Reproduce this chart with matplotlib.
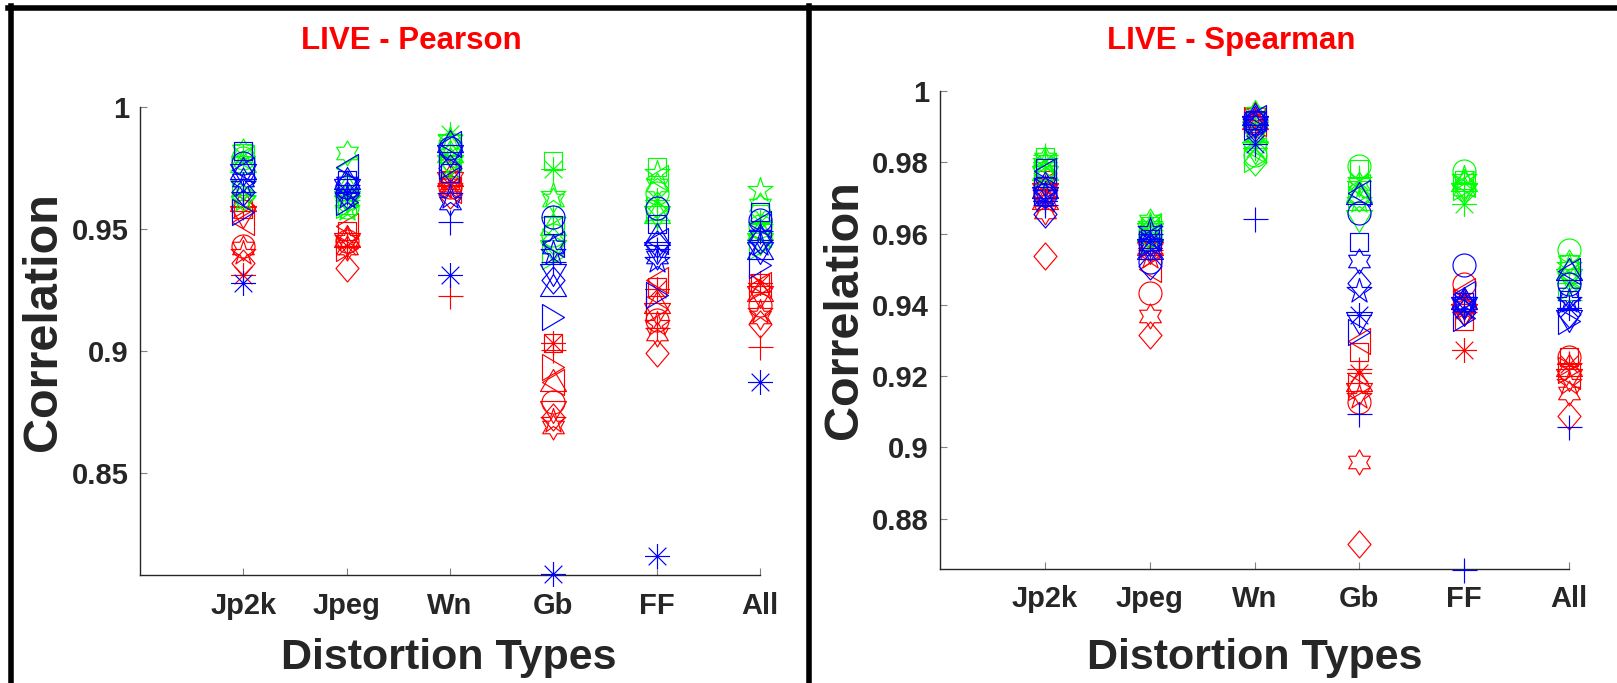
import numpy as np
import matplotlib
matplotlib.use("Agg")
import matplotlib.pyplot as plt
from matplotlib.path import Path
from matplotlib.lines import Line2D

plt.rcParams['font.family'] = ['Liberation Sans', 'DejaVu Sans']

categories = ["Jp2k", "Jpeg", "Wn", "Gb", "FF", "All"]
marker_names = ["+", "o", "*", "s", "d", "^", "v", "<", ">", "p", "h"]

# rows = markers (same order as marker_names), columns = categories
pearson_red = [
    [0.959, 0.943, 0.9225, 0.9005, 0.9093, 0.9015],
    [0.943, 0.945, 0.967, 0.8789, 0.9125, 0.9186],
    [0.931, 0.943, 0.968, 0.903, 0.9255, 0.9276],
    [0.958, 0.949, 0.970, 0.903, 0.926, 0.9276],
    [0.936, 0.934, 0.964, 0.8727, 0.8989, 0.911],
    [0.962, 0.947, 0.972, 0.888, 0.920, 0.925],
    [0.955, 0.944, 0.969, 0.875, 0.915, 0.922],
    [0.953, 0.951, 0.966, 0.887, 0.9289, 0.927],
    [0.960, 0.942, 0.975, 0.8933, 0.917, 0.926],
    [0.940, 0.946, 0.967, 0.871, 0.911, 0.916],
    [0.942, 0.942, 0.968, 0.8686, 0.907, 0.9138],
]
pearson_green = [
    [0.964, 0.962, 0.980, 0.955, 0.9535, 0.952],
    [0.979, 0.959, 0.985, 0.9474, 0.9646, 0.951],
    [0.980, 0.963, 0.989, 0.9745, 0.962, 0.953],
    [0.981, 0.960, 0.975, 0.978, 0.9755, 0.956],
    [0.963, 0.963, 0.978, 0.945, 0.960, 0.946],
    [0.978, 0.968, 0.982, 0.952, 0.957, 0.950],
    [0.966, 0.961, 0.976, 0.941, 0.955, 0.944],
    [0.979, 0.975, 0.979, 0.950, 0.9708, 0.948],
    [0.965, 0.960, 0.977, 0.939, 0.958, 0.943],
    [0.962, 0.958, 0.987, 0.9638, 0.973, 0.9659],
    [0.982, 0.981, 0.984, 0.962, 0.968, 0.960],
]
pearson_blue = [
    [0.965, 0.968, 0.9527, 0.9364, 0.9416, 0.949],
    [0.977, 0.967, 0.983, 0.9548, 0.9585, 0.9535],
    [0.928, 0.965, 0.931, 0.8085, 0.816, 0.887],
    [0.982, 0.970, 0.973, 0.9515, 0.952, 0.957],
    [0.965, 0.964, 0.975, 0.9289, 0.944, 0.9453],
    [0.975, 0.971, 0.986, 0.927, 0.948, 0.942],
    [0.972, 0.966, 0.980, 0.931, 0.940, 0.940],
    [0.974, 0.9755, 0.985, 0.944, 0.945, 0.952],
    [0.957, 0.961, 0.976, 0.9138, 0.9227, 0.935],
    [0.968, 0.963, 0.963, 0.940, 0.937, 0.944],
    [0.970, 0.969, 0.9605, 0.9426, 0.9385, 0.947],
]
spearman_red = [
    [0.974, 0.9554, 0.992, 0.922, 0.938, 0.9238],
    [0.972, 0.9433, 0.991, 0.9128, 0.9458, 0.9254],
    [0.973, 0.956, 0.990, 0.921, 0.9273, 0.9235],
    [0.975, 0.9555, 0.991, 0.9268, 0.9355, 0.9254],
    [0.9536, 0.9314, 0.9905, 0.873, 0.940, 0.9088],
    [0.970, 0.957, 0.9925, 0.919, 0.942, 0.923],
    [0.971, 0.9545, 0.990, 0.915, 0.937, 0.919],
    [0.974, 0.950, 0.991, 0.9299, 0.944, 0.920],
    [0.973, 0.958, 0.992, 0.917, 0.941, 0.9218],
    [0.969, 0.9535, 0.9915, 0.914, 0.939, 0.918],
    [0.966, 0.9369, 0.9935, 0.8958, 0.9395, 0.9153],
]
spearman_green = [
    [0.982, 0.961, 0.9859, 0.9759, 0.974, 0.9413],
    [0.979, 0.960, 0.982, 0.9789, 0.9776, 0.9554],
    [0.980, 0.962, 0.984, 0.9748, 0.9683, 0.946],
    [0.9814, 0.962, 0.993, 0.978, 0.9749, 0.9515],
    [0.977, 0.959, 0.980, 0.970, 0.9735, 0.949],
    [0.978, 0.961, 0.9945, 0.972, 0.975, 0.950],
    [0.976, 0.960, 0.9825, 0.9635, 0.971, 0.947],
    [0.979, 0.962, 0.9835, 0.973, 0.974, 0.948],
    [0.977, 0.958, 0.981, 0.971, 0.973, 0.945],
    [0.980, 0.9625, 0.989, 0.969, 0.9755, 0.951],
    [0.981, 0.9635, 0.9875, 0.974, 0.9725, 0.952],
]
spearman_blue = [
    [0.968, 0.960, 0.9642, 0.9093, 0.8655, 0.9058],
    [0.9709, 0.9519, 0.991, 0.9657, 0.9512, 0.9458],
    [0.969, 0.958, 0.985, 0.9372, 0.9389, 0.939],
    [0.9784, 0.9585, 0.992, 0.9577, 0.9409, 0.9413],
    [0.9655, 0.951, 0.9895, 0.9461, 0.938, 0.9374],
    [0.973, 0.956, 0.9935, 0.9715, 0.942, 0.950],
    [0.970, 0.9555, 0.990, 0.935, 0.939, 0.9355],
    [0.9775, 0.959, 0.9925, 0.9714, 0.943, 0.9495],
    [0.972, 0.957, 0.990, 0.9324, 0.9363, 0.9355],
    [0.971, 0.961, 0.991, 0.944, 0.941, 0.941],
    [0.974, 0.957, 0.9925, 0.9524, 0.940, 0.943],
]

pearson_yticks = [0.85, 0.9, 0.95, 1.0]
pearson_yticklabels = ["0.85", "0.9", "0.95", "1"]
spearman_yticks = [0.88, 0.9, 0.92, 0.94, 0.96, 0.98, 1.0]
spearman_yticklabels = ["0.88", "0.9", "0.92", "0.94", "0.96", "0.98", "1"]

# ---------------- markers (MATLAB-like, hollow) ----------------
W, H, DPI = 1617, 683, 100
PX2PT = 72.0 / DPI


def poly(verts):
    verts = list(verts) + [verts[0]]
    codes = [Path.MOVETO] + [Path.LINETO] * (len(verts) - 2) + [Path.CLOSEPOLY]
    return Path(verts, codes)


def segs(lines):
    v, c = [], []
    for a, b in lines:
        v += [a, b]
        c += [Path.MOVETO, Path.LINETO]
    return Path(v, c)


def star(n, r_out, r_in):
    v = []
    for k in range(2 * n):
        ang = np.pi / 2 + k * np.pi / n
        r = r_out if k % 2 == 0 else r_in
        v.append((r * np.cos(ang), r * np.sin(ang)))
    return poly(v)


r = 12.5
d = r / np.sqrt(2)
marker_defs = {
    "+": (segs([((-r, 0), (r, 0)), ((0, -r), (0, r))]), 25),
    "o": ("o", 23),
    "*": (segs([((-r, 0), (r, 0)), ((0, -r), (0, r)),
                ((-d, -d), (d, d)), ((-d, d), (d, -d))]), 25),
    "s": (poly([(-9, -9), (9, -9), (9, 9), (-9, 9)]), 18),
    "d": (poly([(0, 13.5), (11.5, 0), (0, -13.5), (-11.5, 0)]), 27),
    "^": (poly([(-13, -11), (13, -11), (0, 11)]), 26),
    "v": (poly([(-13, 11), (13, 11), (0, -11)]), 26),
    "<": (poly([(11, -13), (11, 13), (-11, 0)]), 26),
    ">": (poly([(-11, -13), (-11, 13), (11, 0)]), 26),
    "p": (star(5, 13, 13 * 0.382), 26),
    "h": (star(6, 12.5, 12.5 / np.sqrt(3)), 25),
}

colors = {"red": "#FF0000", "green": "#00FF00", "blue": "#0000FF"}

fig = plt.figure(figsize=(W / DPI, H / DPI), dpi=DPI)
fig.patch.set_facecolor("white")


def fx(px):
    return px / W


def fy(py):
    return 1 - py / H


def make_axes(l, t, r_, b):
    return fig.add_axes([fx(l), fy(b), fx(r_ - l), (b - t) / H])


ax1 = make_axes(140, 107, 760, 575)
ax2 = make_axes(940, 91, 1569, 568.5)

panels = [
    (ax1, [pearson_red, pearson_green, pearson_blue], (0.808, 1.0),
     pearson_yticks, pearson_yticklabels),
    (ax2, [spearman_red, spearman_green, spearman_blue], (0.866, 1.0),
     spearman_yticks, spearman_yticklabels),
]

xpos = np.arange(1, len(categories) + 1)
axis_col = "#262626"

for ax, groups, ylim, yt, ytl in panels:
    for grp, cname in zip(groups, ["red", "green", "blue"]):
        for mi, mname in enumerate(marker_names):
            mk, size_px = marker_defs[mname]
            ax.plot(xpos, grp[mi], linestyle="none", marker=mk,
                    markersize=size_px * PX2PT, markerfacecolor="none",
                    markeredgecolor=colors[cname], markeredgewidth=0.85,
                    clip_on=False, zorder=3)
    ax.set_xlim(0, 6)
    ax.set_ylim(*ylim)
    ax.set_xticks(xpos)
    ax.set_xticklabels(categories)
    ax.set_yticks(yt)
    ax.set_yticklabels(ytl)
    for s in ["top", "right"]:
        ax.spines[s].set_visible(False)
    for s in ["left", "bottom"]:
        ax.spines[s].set_color(axis_col)
        ax.spines[s].set_linewidth(1.0)
    ax.tick_params(direction="in", length=5, width=0.8, color="#808080",
                   labelsize=21, labelcolor=axis_col)
    ax.tick_params(axis="x", pad=12)
    ax.tick_params(axis="y", pad=8)
    for lab in ax.get_xticklabels() + ax.get_yticklabels():
        lab.set_fontweight("bold")

# titles and axis labels
fig.text(fx(411), fy(41), "LIVE - Pearson", color="red", fontsize=22.5,
         fontweight="bold", ha="center", va="center")
fig.text(fx(1231), fy(41), "LIVE - Spearman", color="red", fontsize=22.5,
         fontweight="bold", ha="center", va="center")
fig.text(fx(449), fy(658), "Distortion Types", color=axis_col, fontsize=31,
         fontweight="bold", ha="center", va="center")
fig.text(fx(1255), fy(658), "Distortion Types", color=axis_col, fontsize=31,
         fontweight="bold", ha="center", va="center")
fig.text(fx(44), fy(322), "Correlation", color=axis_col, fontsize=35,
         fontweight="bold", ha="center", va="center", rotation=90)
fig.text(fx(844), fy(310), "Correlation", color=axis_col, fontsize=35,
         fontweight="bold", ha="center", va="center", rotation=90)

# panel frames
lw_frame = 4.0
fig.add_artist(Line2D([fx(8), 1.0], [fy(7.5), fy(7.5)], color="black",
                      lw=lw_frame, transform=fig.transFigure))
fig.add_artist(Line2D([fx(11), fx(11)], [fy(5.5), 0.0], color="black",
                      lw=lw_frame, transform=fig.transFigure))
fig.add_artist(Line2D([fx(808.5), fx(808.5)], [fy(5.5), 0.0], color="black",
                      lw=lw_frame, transform=fig.transFigure))

fig.savefig("out.png", dpi=DPI)
